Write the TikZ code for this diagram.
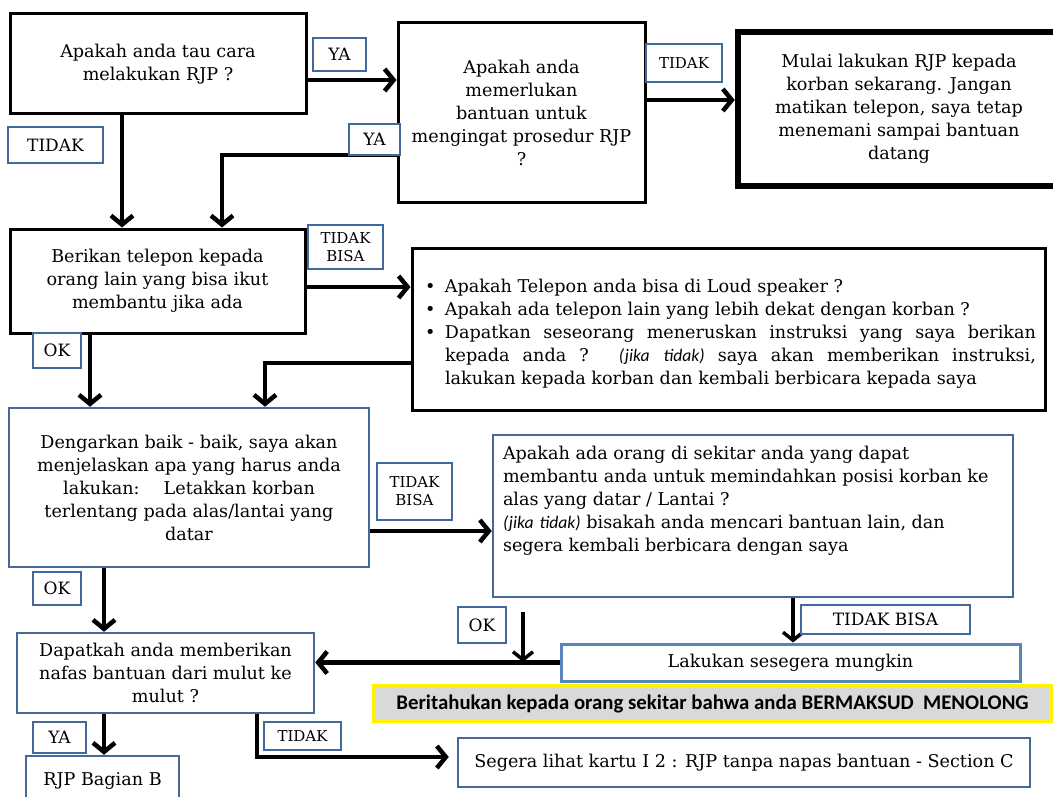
\documentclass[tikz,border=0pt]{standalone}
\usepackage{fontspec}
\setmainfont{DejaVu Serif}
\newfontfamily\bannerfont{Carlito}
\usetikzlibrary{arrows.meta}
\definecolor{tagblue}{RGB}{65,105,155}
\definecolor{boxblue}{RGB}{70,105,150}
\definecolor{soonblue}{RGB}{88,132,192}
\definecolor{bannergray}{RGB}{217,217,217}
\definecolor{banneryellow}{RGB}{255,242,0}
\newcommand{\bul}[1]{\par\hangindent=24pt\hangafter=1\noindent\hbox to 24pt{\hskip4pt\textbullet\hfil}#1\par}

\begin{document}
\begin{tikzpicture}[x=1pt,y=-1pt]
\tikzstyle{every node}+=[inner sep=0pt, font=\fontsize{17.6}{23}\selectfont]
\tikzstyle{blk}=[draw=black, line width=3pt, align=center]
\tikzstyle{blu}=[draw=boxblue, line width=2.5pt, align=center]
\tikzstyle{tag}=[draw=tagblue, line width=2.5pt, fill=white, align=center, font=\fontsize{15}{18}\selectfont]
\tikzstyle{bigtag}=[tag, font=\fontsize{17}{20}\selectfont]
\tikzstyle{flow}=[line width=4.5pt, -{Straight Barb[length=9pt,width=22pt]}]
\tikzstyle{thinflow}=[line width=3.5pt, -{Straight Barb[length=8pt,width=20pt]}]
\path[fill=white, use as bounding box] (0,0) rectangle (1053,797);
% question boxes
\node[blk, minimum width=296pt, minimum height=100pt] (know) at (158,64) {Apakah anda tau  cara\\melakukan RJP ?};
\node[blk, minimum width=247pt, minimum height=180pt] (recall) at (521.5,113) {Apakah anda\\memerlukan\\bantuan  untuk\\mengingat prosedur RJP\\?};
\node[draw=black, line width=6.5pt, align=center, minimum width=322pt, minimum height=154pt] (start) at (899,109) {Mulai lakukan RJP kepada\\korban  sekarang. Jangan\\matikan telepon, saya tetap\\menemani sampai bantuan\\datang};
\node[blk, minimum width=295pt, minimum height=104pt] (phone) at (157.5,281) {Berikan telepon kepada\\orang lain yang bisa ikut\\membantu  jika ada};
\node[blk, minimum width=633pt, minimum height=162pt, text width=615pt, align=justify] (ask) at (728.5,329) {\bul{Apakah Telepon anda bisa di Loud  speaker ?}\bul{Apakah ada  telepon lain yang lebih dekat dengan korban ?}\bul{Dapatkan seseorang meneruskan instruksi yang saya berikan\linebreak kepada anda ? {\bannerfont\itshape (jika\hspace{14pt}tidak)} saya akan memberikan instruksi,\linebreak lakukan kepada korban dan kembali  berbicara kepada saya}};
\node[blu, minimum width=360pt, minimum height=159pt] (listen) at (189,487.5) {Dengarkan baik - baik,  saya akan\\menjelaskan apa  yang harus  anda\\lakukan:\hspace{24pt}Letakkan korban\\terlentang pada alas/lantai yang\\datar};
\node[blu, minimum width=520pt, minimum height=162pt] (move) at (753,516) {\parbox[c][140pt][t]{500pt}{\raggedright Apakah ada  orang di sekitar anda yang dapat\\membantu  anda untuk memindahkan posisi korban ke\\alas yang datar  / Lantai ?\\{\bannerfont\itshape (jika\hspace{6pt}tidak)} bisakah anda mencari bantuan lain, dan\\segera kembali berbicara dengan saya}};
\node[blu, minimum width=297pt, minimum height=80pt] (breath) at (165.5,673) {Dapatkah  anda memberikan\\nafas bantuan dari  mulut ke\\mulut ?};
\node[blu, minimum width=153pt, minimum height=50pt] (cpr) at (102.5,781) {RJP  Bagian B};
\node[blu, minimum width=572pt, minimum height=49pt] (card) at (744,762.5) {Segera lihat kartu I 2 : RJP tanpa napas bantuan  - Section C};
\node[draw=soonblue, line width=3pt, minimum width=459pt, minimum height=37pt] (soon) at (790.5,662.5) {Lakukan  sesegera mungkin};
\node[draw=banneryellow, fill=bannergray, line width=4pt, minimum width=677pt, minimum height=35pt, font=\bannerfont\bfseries\fontsize{20.8}{23}\selectfont] (tell) at (712.5,703.5) {Beritahukan kepada orang sekitar bahwa anda BERMAKSUD\ \ MENOLONG};
\coordinate (join) at (523,662);
% connectors
\draw[flow] (know.east |- 0,80) -- (recall.west |- 0,80);
\draw[flow] (recall.east |- 0,100) -- (start.west |- 0,100);
\draw[flow] (know.south -| 122,0) -- (phone.north -| 122,0);
\draw[flow] (recall.west |- 0,155) -- (222,155) -- (phone.north -| 222,0);
\draw[flow] (phone.east |- 0,287) -- (ask.west |- 0,287);
\draw[flow] (phone.south -| 90,0) -- (listen.north -| 90,0);
\draw[flow] (ask.west |- 0,363) -- (265,363) -- (listen.north -| 265,0);
\draw[flow] (listen.east |- 0,531) -- (move.west |- 0,531);
\draw[flow] (listen.south -| 104,0) -- (breath.north -| 104,0);
\draw[flow] (breath.south -| 104,0) -- (cpr.north -| 104,0);
\draw[flow] (breath.south -| 257,0) -- (257,757) -- ([xshift=-8pt]card.west |- 0,757);
\draw[thinflow] (move.south -| 793,0) -- (soon.north -| 793,0);
\draw[thinflow, shorten <=14pt] (move.south -| join) -- (join);
\draw[flow] (soon.west) -- (breath.east |- soon.west);
% answer tags
\node[bigtag, minimum width=53pt, minimum height=33pt] (yaKnow) at (339.5,54.5) {YA};
\node[bigtag, minimum width=95pt, minimum height=36pt] (tidakKnow) at (55.5,145) {TIDAK};
\node[bigtag, minimum width=51pt, minimum height=31pt] (yaRecall) at (374.5,139.5) {YA};
\node[tag, minimum width=76pt, minimum height=38pt] (tidakRecall) at (684,63) {TIDAK};
\node[tag, minimum width=75pt, minimum height=44pt] (tidakbisaPhone) at (345.5,247) {TIDAK\\BISA};
\node[bigtag, minimum width=48pt, minimum height=35pt] (okPhone) at (57,350.5) {OK};
\node[tag, minimum width=75pt, minimum height=57pt] (tidakbisaListen) at (414.5,491.5) {TIDAK\\BISA};
\node[bigtag, minimum width=48pt, minimum height=33pt] (okListen) at (57,588.5) {OK};
\node[bigtag, minimum width=48pt, minimum height=36pt] (okMove) at (482,625) {OK};
\node[bigtag, minimum width=169pt, minimum height=29pt] (tidakbisaMove) at (885.5,619.5) {TIDAK BISA};
\node[bigtag, minimum width=53pt, minimum height=31pt] (yaBreath) at (59.5,737.5) {YA};
\node[tag, minimum width=77pt, minimum height=28pt] (tidakBreath) at (302.5,736) {TIDAK};
\end{tikzpicture}
\end{document}
